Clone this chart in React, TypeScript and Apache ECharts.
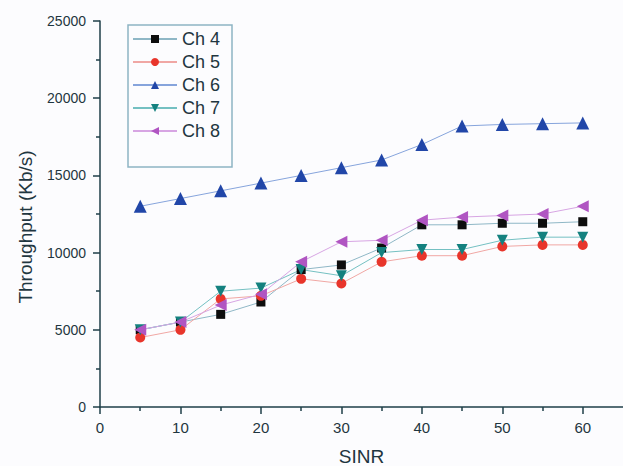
import React, { useEffect, useRef } from "react";
import * as echarts from "echarts";

const sinr = [5, 10, 15, 20, 25, 30, 35, 40, 45, 50, 55, 60];
const ch4 = [5000, 5500, 6000, 6800, 8900, 9200, 10300, 11800, 11800, 11900, 11900, 12000];
const ch5 = [4500, 5000, 7000, 7200, 8300, 8000, 9400, 9800, 9800, 10400, 10500, 10500];
const ch6 = [13000, 13500, 14000, 14500, 15000, 15500, 16000, 17000, 18200, 18300, 18350, 18400];
const ch7 = [5000, 5500, 7500, 7700, 8900, 8500, 10000, 10200, 10200, 10800, 11000, 11000];
const ch8 = [5000, 5500, 6600, 7300, 9400, 10700, 10800, 12100, 12300, 12400, 12500, 13000];
const seriesNames = ["Ch 4", "Ch 5", "Ch 6", "Ch 7", "Ch 8"];
const xMajor = [0, 10, 20, 30, 40, 50, 60];
const xMinor = [5, 15, 25, 35, 45, 55];

export default function App() {
  const ref = useRef<HTMLDivElement>(null);
  useEffect(() => {
    if (!ref.current) return;
    const chart = echarts.init(ref.current, null, { renderer: "svg" });
    const axisColor = "#1f3f49";
    const textColor = "#1f3640";
    const font = "Arial, 'Liberation Sans', sans-serif";
    const mk = (name: string, vals: number[], symbol: string, size: number, rot: number, fill: string, line: string) => ({
      name,
      type: "line",
      data: sinr.map((x, i) => [x, vals[i]]),
      symbol,
      symbolSize: size,
      symbolRotate: rot,
      showAllSymbol: true,
      lineStyle: { color: line, width: 1 },
      itemStyle: { color: fill, borderWidth: 0 },
      emphasis: { disabled: true },
    });
    chart.setOption({
      animation: false,
      backgroundColor: "#fcfcfe",
      grid: { left: 100, top: 21, right: 0, bottom: 59, containLabel: false, outerBoundsMode: "none" },
      legend: {
        orient: "vertical",
        left: 132,
        top: 30,
        padding: 0,
        itemGap: 5,
        itemWidth: 44,
        itemHeight: 10,
        data: seriesNames,
        textStyle: { fontSize: 18, lineHeight: 18, color: textColor, fontFamily: font },
      },
      graphic: [
        {
          type: "rect",
          shape: { x: 128, y: 25, width: 104, height: 142 },
          style: { fill: "none", stroke: "#8db4c4", lineWidth: 1.5 },
          z: 10,
        },
        {
          type: "text",
          x: 25,
          y: 227,
          rotation: Math.PI / 2,
          style: {
            text: "Throughput (Kb/s)",
            fontSize: 19,
            fontFamily: font,
            fill: textColor,
            align: "center",
            verticalAlign: "middle",
          },
        },
      ],
      xAxis: [
        {
          type: "value",
          min: 0,
          max: 65,
          interval: 10,
          name: "SINR",
          nameLocation: "middle",
          nameGap: 40,
          nameTextStyle: { fontSize: 19, lineHeight: 18, color: textColor, fontFamily: font },
          splitLine: { show: false },
          axisLine: { show: true, lineStyle: { color: axisColor, width: 1.5 } },
          axisTick: { show: true, length: 7, customValues: xMajor, lineStyle: { color: axisColor, width: 1.5 } },
          axisLabel: { customValues: xMajor, margin: 13, fontSize: 15, color: textColor, fontFamily: font },
        },
        {
          type: "value",
          min: 0,
          max: 65,
          position: "bottom",
          splitLine: { show: false },
          axisLine: { show: false },
          axisTick: { show: true, length: 4, customValues: xMinor, lineStyle: { color: axisColor, width: 1.5 } },
          axisLabel: { show: false },
        },
      ],
      yAxis: {
        type: "value",
        min: 0,
        max: 25000,
        interval: 5000,
        splitLine: { show: false },
        axisLine: { show: true, lineStyle: { color: axisColor, width: 1.5 } },
        axisTick: { show: true, length: 7, lineStyle: { color: axisColor, width: 1.5 } },
        minorTick: { show: true, splitNumber: 2, length: 4, lineStyle: { color: axisColor, width: 1.5 } },
        axisLabel: {
          margin: 14,
          fontSize: 14,
          color: textColor,
          fontFamily: font,
          formatter: (v: number) => String(v),
        },
      },
      series: [
        mk("Ch 4", ch4, "rect", 9, 0, "#0d0d0d", "#8fb7c6"),
        mk("Ch 5", ch5, "circle", 10, 0, "#e8352b", "#f0a7a4"),
        mk("Ch 6", ch6, "triangle", 13, 0, "#2146a8", "#86a4dc"),
        mk("Ch 7", ch7, "triangle", 11, 180, "#14817f", "#74c0c2"),
        mk("Ch 8", ch8, "triangle", 12, 90, "#b055c2", "#d7a5e3"),
      ],
    });
    return () => chart.dispose();
  }, []);
  return <div ref={ref} style={{ position: "fixed", left: 0, top: 0, width: 623, height: 466 }} />;
}
